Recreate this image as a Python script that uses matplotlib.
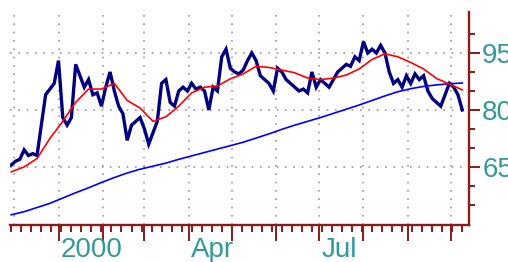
import matplotlib
matplotlib.use("Agg")
from matplotlib import pyplot as plt
import matplotlib.dates as mdates
import pandas as pd

plt.rcParams['font.family'] = ['Liberation Sans', 'DejaVu Sans']

# precio (cada 3 dias desde 29-nov-1999)
price = [65.5, 66.5, 67, 69.5, 68, 68.5, 68, 76, 84, 85.5,
         87, 93, 78, 76, 78, 92, 89, 86, 88, 84,
         84.5, 81, 86, 90, 85, 81, 79, 72, 76, 77,
         78, 75, 71, 74, 77, 87, 88, 82, 81, 85,
         86, 85, 87, 85.5, 86, 85, 80, 86, 85, 94,
         96, 91, 90, 89.5, 90.5, 93, 95, 93, 89, 88,
         87, 85, 91, 90, 88, 87, 86, 85, 85.5, 84.5,
         90, 86, 88, 87, 86, 88, 90, 91, 92, 91.5,
         94, 93, 98, 95, 96, 95, 97, 95, 90, 87,
         88, 86, 89, 87, 89.5, 88, 89, 85, 83, 82,
         81, 84, 87, 86, 84, 80]

# medias moviles (cada 9 dias)
ma_short = [63.7, 65, 67.2, 72.5, 77, 82, 85.5, 85.5, 87, 82.5,
            80.5, 77, 78.2, 81, 84.5, 86, 86.3, 88.2, 89.5, 91.5,
            91.2, 90.5, 89.8, 88.4, 88, 88.4, 89.2, 90.8, 93.3, 94.8,
            94, 92.5, 90.8, 88.3, 86.8, 85.3]
ma_long = [52.4, 53.2, 54.3, 55.4, 56.8, 58.2, 59.5, 60.9, 62.2, 63.4,
           64.4, 65.2, 66, 67, 67.9, 68.8, 69.7, 70.6, 71.5, 72.6,
           73.7, 74.9, 76, 77, 78, 79.1, 80.2, 81.3, 82.5, 83.7,
           84.8, 85.6, 86.2, 86.6, 86.9, 87.1]

price_dates = pd.date_range('1999-11-29', periods=len(price), freq='3D')
ma_dates = pd.date_range('1999-11-29', periods=len(ma_short), freq='9D')

month_labels = {'2000-01-01': '2000', '2000-04-01': 'Apr', '2000-07-01': 'Jul'}
y_labels = [65, 80, 95]

axis_col = '#8B1A1A'
text_col = '#339999'
grid_col = '#999999'

fig = plt.figure(figsize=(5.08, 2.62), dpi=100)
ax = fig.add_axes([10/508, 37/262, 459/508, 213/262])

ax.plot(price_dates, price, color='#000080', lw=2.4, solid_joinstyle='miter')
ax.plot(ma_dates, ma_long, color='#0000FF', lw=1.2)
ax.plot(ma_dates, ma_short, color='#FF0000', lw=1.2)

ax.set_xlim(pd.Timestamp('1999-11-28 03:00'), pd.Timestamp('2000-10-13 17:00'))
ax.set_ylim(49.7, 105.8)

# ejes
for s in ['left', 'top']:
    ax.spines[s].set_visible(False)
for s in ['right', 'bottom']:
    ax.spines[s].set_color(axis_col)
    ax.spines[s].set_linewidth(1.7)

ax.xaxis.set_major_locator(mdates.MonthLocator(bymonth=range(1, 11)))
ax.xaxis.set_minor_locator(mdates.WeekdayLocator(byweekday=mdates.MO))
ax.xaxis.set_major_formatter(plt.NullFormatter())
ax.tick_params(axis='x', which='major', length=11.5, width=1.4, color=axis_col, direction='out')
ax.tick_params(axis='x', which='minor', length=5, width=1.4, color=axis_col, direction='out')

ax.yaxis.tick_right()
ax.set_yticks(y_labels)
ax.set_yticks([55, 60, 70, 75, 85, 90, 100], minor=True)
ax.set_yticklabels([str(v) for v in y_labels])
ax.tick_params(axis='y', which='major', length=8, width=1.4, color=axis_col,
               labelcolor=text_col, labelsize=20, pad=1.5)
ax.tick_params(axis='y', which='minor', length=4.3, width=1.4, color=axis_col)

# rejilla punteada
ax.grid(True, which='major', color=grid_col, linestyle=(0, (1, 4)), lw=1.2)
ax.axvline(pd.Timestamp('1999-12-01'), color=grid_col, linestyle=(0, (1, 4)), lw=1.2, zorder=0.5)
ax.set_axisbelow(True)

for d, lab in month_labels.items():
    ax.annotate(lab, xy=(pd.Timestamp(d), 0), xycoords=('data', 'axes fraction'),
                xytext=(1.5, -23), textcoords='offset points',
                ha='left', va='baseline', color=text_col, fontsize=20,
                annotation_clip=False)

fig.savefig('out.png', dpi=100)
